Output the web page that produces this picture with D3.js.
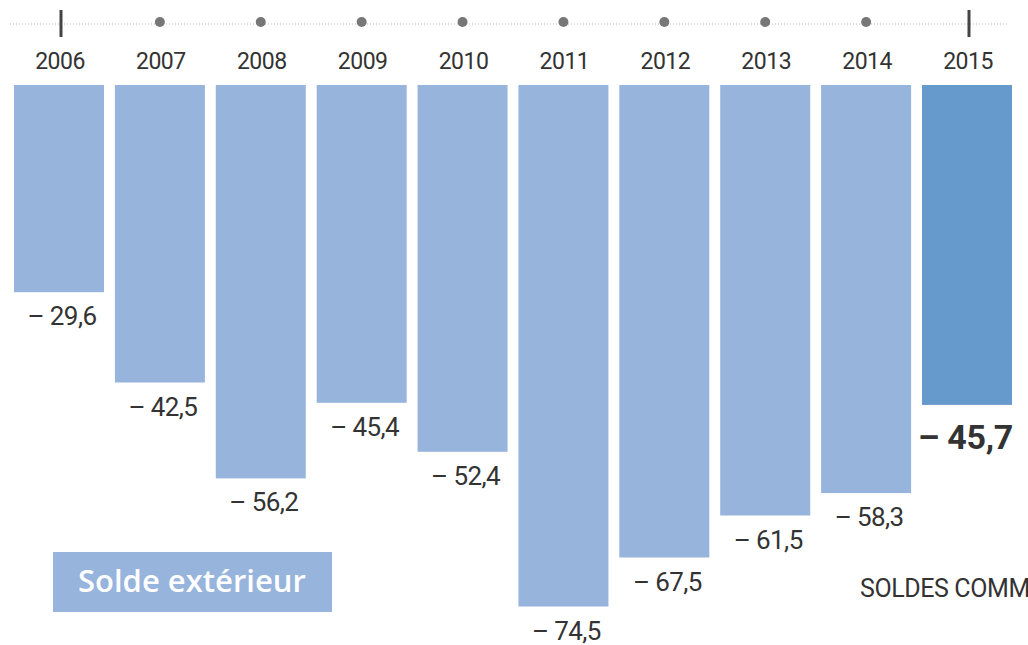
<!DOCTYPE html>
<html>
<head>
<meta charset="utf-8">
<script src="https://cdn.jsdelivr.net/npm/d3@7"></script>
<style>
  body { margin: 0; background: #fff; overflow: hidden; }
  svg { display: block; font-family: "Roboto", sans-serif; }
</style>
</head>
<body>
<svg id="chart" width="1028" height="645"></svg>
<script>
const years = ['2006', '2007', '2008', '2009', '2010', '2011', '2012', '2013', '2014', '2015'];
const balances = [-29.6, -42.5, -56.2, -45.4, -52.4, -74.5, -67.5, -61.5, -58.3, -45.7];
const highlightYear = '2015';
const legendLabel = 'Solde extérieur';
const footLabel = 'SOLDES COMMERCIAUX';

const svg = d3.select('#chart');
const fmt = v => '\u2013 ' + d3.format('.1f')(Math.abs(v)).replace('.', ',');

const x = d3.scaleBand().domain(years).range([14, 1012]).paddingInner(0.108).paddingOuter(0);
const y = d3.scaleLinear().domain([0, -80]).range([85, 645]);

// timeline on top
svg.append('line')
  .attr('x1', 10).attr('x2', 1008).attr('y1', 24).attr('y2', 24)
  .attr('stroke', '#bbb').attr('stroke-width', 1).attr('stroke-dasharray', '1,2');

const timeline = svg.append('g');
years.forEach((yr, i) => {
  const cx = x(yr) + x.bandwidth() / 2;
  if (i === 0 || i === years.length - 1) {
    timeline.append('line').attr('x1', cx + 2).attr('x2', cx + 2).attr('y1', 10).attr('y2', 37)
      .attr('stroke', '#444').attr('stroke-width', 3);
  } else {
    timeline.append('circle').attr('cx', cx).attr('cy', 22).attr('r', 5).attr('fill', '#777');
  }
  timeline.append('text').attr('x', cx + 1).attr('y', 69).attr('text-anchor', 'middle')
    .attr('font-size', 23).attr('letter-spacing', -0.5).attr('fill', '#333').text(yr);
});

// bars
svg.append('g').selectAll('rect').data(years).join('rect')
  .attr('x', d => x(d))
  .attr('y', y(0))
  .attr('width', x.bandwidth())
  .attr('height', (d, i) => y(balances[i]) - y(0))
  .attr('fill', d => d === highlightYear ? '#6699cc' : '#97b4dd');

// value labels
svg.append('g').selectAll('text').data(years).join('text')
  .attr('x', d => d === highlightYear ? x(d) - 4 : x(d) + x.bandwidth() / 2 + 3)
  .attr('y', (d, i) => d === highlightYear ? y(balances[i]) + 44 : y(balances[i]) + 33)
  .attr('text-anchor', d => d === highlightYear ? 'start' : 'middle')
  .attr('font-size', d => d === highlightYear ? 34 : 26)
  .attr('letter-spacing', d => d === highlightYear ? -0.3 : -0.6)
  .attr('font-weight', d => d === highlightYear ? 'bold' : 'normal')
  .attr('fill', '#333')
  .text((d, i) => fmt(balances[i]));

// legend box
svg.append('rect').attr('x', 53).attr('y', 552).attr('width', 279).attr('height', 60)
  .attr('fill', '#97b4dd');
svg.append('text').attr('x', 78).attr('y', 592).attr('font-size', 31)
  .attr('font-family', '"Open Sans", sans-serif').attr('font-weight', 600)
  .attr('fill', '#fff').text(legendLabel);

// footer label (runs off the edge, as in the source)
svg.append('text').attr('x', 860).attr('y', 597).attr('font-size', 25)
  .attr('letter-spacing', -0.4)
  .attr('fill', '#333').text(footLabel);
</script>
</body>
</html>
